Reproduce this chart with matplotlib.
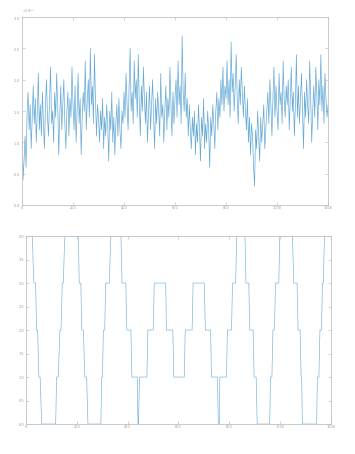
import matplotlib
matplotlib.use("Agg")
import matplotlib.pyplot as plt
import numpy as np
from matplotlib.ticker import ScalarFormatter

# signal du haut (unites de 1e-4), echantillons reguliers sur 0..1200
bruit = [
    14, 4, 7, 11, 6, 15, 18, 12, 16, 9, 14, 19, 13, 17, 10, 15, 21, 12, 16, 11,
    18, 13, 9, 16, 20, 14, 11, 17, 22, 13, 15, 10, 18, 14, 21, 16, 8, 14, 19, 12,
    16, 20, 13, 9, 15, 18, 11, 17, 14, 22, 16, 12, 19, 10, 15, 21, 13, 17, 8, 14,
    18, 15, 23, 12, 17, 20, 14, 25, 16, 19, 13, 24, 17, 11, 16, 14, 10, 15, 12, 17,
    9, 14, 11, 16, 13, 7, 15, 12, 18, 10, 14, 8, 13, 16, 11, 17, 12, 9, 15, 13,
    18, 14, 21, 16, 12, 19, 25, 15, 18, 13, 23, 17, 20, 14, 24, 16, 11, 19, 15, 22,
    17, 13, 18, 10, 15, 19, 12, 16, 20, 14, 9, 17, 13, 18, 15, 11, 21, 14, 16, 10,
    15, 19, 12, 17, 14, 22, 16, 11, 18, 13, 17, 20, 14, 23, 16, 19, 13, 27, 18, 15,
    21, 14, 17, 11, 16, 12, 9, 14, 11, 15, 8, 13, 10, 16, 12, 7, 14, 11, 17, 9,
    13, 10, 15, 12, 6, 14, 11, 16, 13, 9, 15, 18, 12, 17, 14, 20, 16, 22, 15, 19,
    17, 23, 16, 20, 14, 26, 18, 21, 15, 19, 24, 17, 13, 20, 16, 22, 18, 14, 19, 15,
    12, 17, 10, 14, 8, 13, 11, 6, 3, 12, 9, 15, 11, 7, 14, 10, 13, 16, 9, 12,
    15, 18, 13, 20, 16, 11, 17, 22, 14, 19, 15, 12, 21, 16, 18, 13, 23, 17, 14, 19,
    16, 20, 12, 17, 22, 15, 18, 11, 16, 24, 14, 19, 13, 17, 21, 15, 9, 18, 14, 20,
    16, 13, 23, 17, 10, 15, 19, 14, 22, 18, 12, 20, 16, 24, 15, 19, 13, 21, 17, 14,
    16,
]

# signal en escalier du bas : sommets (x, niveau)
x_esc = [0, 25, 31, 38, 42, 46, 51, 56, 62, 117, 121, 127, 134, 138, 143, 147, 153,
         206, 210, 216, 220, 226, 232, 239, 244, 295, 298, 301, 305, 310, 314, 328, 334,
         374, 378, 393, 397, 413, 417, 438, 441, 443, 447, 476, 480, 501, 505, 550, 553,
         578, 582, 623, 627, 654, 658, 702, 706, 727, 730, 754, 757, 761, 763, 789, 793,
         809, 813, 825, 830, 862, 866, 877, 881, 894, 898, 906, 910, 959, 963, 968, 972,
         978, 982, 995, 999, 1049, 1054, 1067, 1071, 1079, 1083, 1085, 1088, 1144, 1147,
         1153, 1157, 1163, 1167, 1170, 1175, 1200]
niv_esc = [4, 4, 3, 3, 2, 2, 1, 1, 0, 0, 1, 1, 2, 2, 3, 3, 4,
           4, 3, 3, 2, 2, 1, 1, 0, 0, 1, 1, 2, 2, 3, 3, 4,
           4, 3, 3, 2, 2, 1, 1, 0, 0, 1, 1, 2, 2, 3, 3, 2,
           2, 1, 1, 2, 2, 3, 3, 2, 2, 1, 1, 0, 0, 1, 1, 2,
           2, 3, 3, 4, 4, 3, 3, 2, 2, 1, 1, 0, 0, 1, 1, 2,
           2, 3, 3, 4, 4, 3, 3, 2, 2, 1, 1, 0, 0, 1,
           1, 2, 2, 3, 3, 4, 4]

x_ticks = [0, 200, 400, 600, 800, 1000, 1200]

bleu = '#0072BD'
gris = '#c2c2c2'

fig = plt.figure(figsize=(3.55, 4.54), dpi=100)
ax1 = fig.add_axes([0.062, 0.5485, 0.862, 0.414])
ax2 = fig.add_axes([0.073, 0.066, 0.859, 0.414])

# Trace du haut
x_bruit = np.linspace(0, 1200, len(bruit))
ax1.plot(x_bruit, np.array(bruit) * 1e-4, color=bleu, lw=0.5, alpha=0.6)
ax1.set_xlim(0, 1200)
ax1.set_ylim(0, 3e-3)
ax1.set_yticks(np.arange(0, 3.01e-3, 0.5e-3))
fmt = ScalarFormatter(useMathText=True)
fmt.set_powerlimits((-2, 2))
ax1.yaxis.set_major_formatter(fmt)
ax1.yaxis.get_offset_text().set_fontsize(2.5)
ax1.yaxis.get_offset_text().set_color('#999999')

# Trace du bas
ax2.plot(x_esc, niv_esc, color=bleu, lw=0.5, alpha=0.5)
ax2.set_xlim(0, 1200)
ax2.set_ylim(0, 4)
ax2.set_yticks(np.arange(0, 4.01, 0.5))

for ax in (ax1, ax2):
    ax.set_xticks(x_ticks)
    ax.tick_params(direction='in', length=2, width=0.5, colors=gris,
                   labelsize=2.5, labelcolor='#999999', pad=1,
                   top=True, right=True)
    for s in ax.spines.values():
        s.set_color(gris)
        s.set_linewidth(0.6)

plt.savefig('out.png', dpi=100)
